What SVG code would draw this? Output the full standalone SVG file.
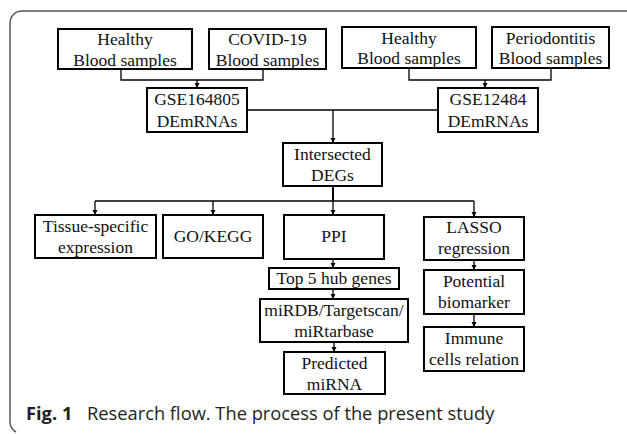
<svg xmlns="http://www.w3.org/2000/svg" width="627" height="434" viewBox="0 0 627 434">
<defs>
<style>
.box{fill:#fff;stroke:#000;stroke-width:2}
.c{fill:none;stroke:#000;stroke-width:1.3}
.frame{fill:none;stroke:#555;stroke-width:1.5}
.t{font-family:"Liberation Serif","Times New Roman",serif;font-size:17.5px;fill:#111;text-anchor:middle}
.cap{font-family:"Open Sans","Noto Sans",sans-serif;font-size:18.3px;fill:#231f20}
</style>
<marker id="ah" markerWidth="6" markerHeight="6" refX="5" refY="3" orient="auto" markerUnits="userSpaceOnUse">
<path d="M0,0.5 L5,3 L0,5.5 Z" fill="#000"/>
</marker>
</defs>
<rect width="627" height="434" fill="#fff"/>
<path class="frame" d="M627,11 H22 A12,12 0 0 0 10,23 V421 A12,12 0 0 0 16,432"/>
<g id="connectors">
<path class="c" d="M121,69 V80 H263 V69"/>
<path class="c" d="M197,80 V88" marker-end="url(#ah)"/>
<path class="c" d="M409,68 V80 H551 V68"/>
<path class="c" d="M485,80 V88" marker-end="url(#ah)"/>
<path class="c" d="M247,110 H438"/>
<path class="c" d="M333,110 V143" marker-end="url(#ah)"/>
<path class="c" d="M333,186 V201" style="stroke-width:2"/>
<path class="c" d="M95,201 H474"/>
<path class="c" d="M95,201 V215" marker-end="url(#ah)"/>
<path class="c" d="M213,201 V215" marker-end="url(#ah)"/>
<path class="c" d="M333,201 V215" marker-end="url(#ah)"/>
<path class="c" d="M474,201 V217" marker-end="url(#ah)"/>
<path class="c" d="M333,259 V268" marker-end="url(#ah)"/>
<path class="c" d="M333,289 V299" marker-end="url(#ah)"/>
<path class="c" d="M334,342 V352" marker-end="url(#ah)"/>
<path class="c" d="M474,260 V270" marker-end="url(#ah)"/>
<path class="c" d="M474,314 V327" marker-end="url(#ah)"/>
</g>
<g id="healthy1"><rect class="box" x="58" y="29" width="134" height="40"/><text class="t" x="125" y="45">Healthy</text><text class="t" x="125" y="66">Blood samples</text></g>
<g id="covid"><rect class="box" x="209" y="29" width="117" height="40"/><text class="t" x="267.5" y="45">COVID-19</text><text class="t" x="267.5" y="66">Blood samples</text></g>
<g id="healthy2"><rect class="box" x="342" y="27" width="134" height="41"/><text class="t" x="409" y="44">Healthy</text><text class="t" x="409" y="64">Blood samples</text></g>
<g id="perio"><rect class="box" x="492" y="27" width="117" height="41"/><text class="t" x="550.5" y="44">Periodontitis</text><text class="t" x="550.5" y="64">Blood samples</text></g>
<g id="gse164805"><rect class="box" x="147" y="88" width="100" height="44"/><text class="t" x="197" y="105">GSE164805</text><text class="t" x="197" y="127">DEmRNAs</text></g>
<g id="gse12484"><rect class="box" x="438" y="88" width="100" height="44"/><text class="t" x="488" y="105">GSE12484</text><text class="t" x="488" y="127">DEmRNAs</text></g>
<g id="intersected"><rect class="box" x="283" y="143" width="99" height="43"/><text class="t" x="332.5" y="160">Intersected</text><text class="t" x="332.5" y="181">DEGs</text></g>
<g id="tissue"><rect class="box" x="35" y="215" width="121" height="43"/><text class="t" x="95.5" y="232">Tissue-specific</text><text class="t" x="95.5" y="253">expression</text></g>
<g id="gokegg"><rect class="box" x="163" y="215" width="100" height="43"/><text class="t" x="213" y="242">GO/KEGG</text></g>
<g id="ppi"><rect class="box" x="284" y="215" width="100" height="44"/><text class="t" x="334" y="242">PPI</text></g>
<g id="lasso"><rect class="box" x="424" y="217" width="100" height="43"/><text class="t" x="474" y="233">LASSO</text><text class="t" x="474" y="254">regression</text></g>
<g id="top5"><rect class="box" x="269" y="268" width="130" height="21"/><text class="t" x="334" y="284">Top 5 hub genes</text></g>
<g id="mirdb"><rect class="box" x="260" y="299" width="148" height="43"/><text class="t" x="334" y="316">miRDB/Targetscan/</text><text class="t" x="334" y="337">miRtarbase</text></g>
<g id="predicted"><rect class="box" x="284" y="352" width="101" height="42"/><text class="t" x="334.5" y="369">Predicted</text><text class="t" x="334.5" y="390">miRNA</text></g>
<g id="potential"><rect class="box" x="424" y="270" width="100" height="44"/><text class="t" x="474" y="287">Potential</text><text class="t" x="474" y="308">biomarker</text></g>
<g id="immune"><rect class="box" x="424" y="327" width="100" height="44"/><text class="t" x="474" y="344">Immune</text><text class="t" x="474" y="365">cells relation</text></g>
<text class="cap" x="26" y="420"><tspan font-weight="bold">Fig. 1</tspan><tspan x="87">Research flow. The process of the present study</tspan></text>
</svg>
